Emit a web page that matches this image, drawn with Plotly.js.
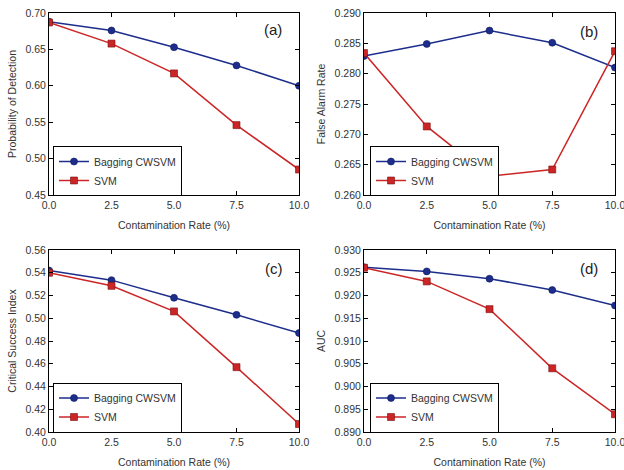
<!DOCTYPE html>
<html>
<head>
<meta charset="utf-8">
<script src="https://cdn.plot.ly/plotly-3.0.1.min.js"></script>
<style>html,body{margin:0;padding:0;background:#fff;}#chart{width:624px;height:470px;}</style>
</head>
<body>
<div id="chart"></div>
<script>
const contamination = [0.0, 2.5, 5.0, 7.5, 10.0];
const seriesNames = ["Bagging CWSVM", "SVM"];
const panelLabels = ["(a)", "(b)", "(c)", "(d)"];
const yTitles = ["Probability of Detection", "False Alarm Rate", "Critical Success Index", "AUC"];
const xTitle = "Contamination Rate (%)";

const pdBagging = [0.688, 0.676, 0.653, 0.628, 0.600];
const pdSVM     = [0.687, 0.658, 0.617, 0.546, 0.485];
const farBagging = [0.2829, 0.2849, 0.2871, 0.2851, 0.2810];
const farSVM     = [0.2834, 0.2713, 0.2631, 0.2642, 0.2837];
const csiBagging = [0.542, 0.5335, 0.518, 0.503, 0.487];
const csiSVM     = [0.540, 0.5285, 0.506, 0.457, 0.407];
const aucBagging = [0.9262, 0.9253, 0.9237, 0.9212, 0.9178];
const aucSVM     = [0.9261, 0.9231, 0.9170, 0.9040, 0.8939];

const yRanges = [[0.45, 0.70], [0.260, 0.290], [0.40, 0.56], [0.890, 0.930]];
const yDticks = [0.05, 0.005, 0.02, 0.005];
const yFormats = [".2f", ".3f", ".2f", ".3f"];

const panels = [
  [pdBagging, pdSVM],
  [farBagging, farSVM],
  [csiBagging, csiSVM],
  [aucBagging, aucSVM]
];

const blue = "#1c2d8c", blueEdge = "#0f1a5a";
const red = "#cc2525", redEdge = "#7a1010";
const font = "Liberation Sans, Arial, sans-serif";

const xDomains = [[49/624, 299/624], [364/624, 615/624], [49/624, 299/624], [364/624, 615/624]];
const yDomains = [[1-195/470, 1-13/470], [1-195/470, 1-13/470], [1-432/470, 1-250/470], [1-432/470, 1-250/470]];
const legendPos = [[53/624, 1-171/470], [370/624, 1-171/470], [53/624, 1-407.5/470], [370/624, 1-407.5/470]];
const labelPos = [[273, 30], [589, 31], [274, 268], [589, 268]];

const data = [];
const layout = {
  width: 624, height: 470,
  margin: {l: 0, r: 0, t: 0, b: 0},
  paper_bgcolor: "#fff", plot_bgcolor: "#fff",
  font: {family: font, size: 10, color: "#333"},
  showlegend: true,
  annotations: []
};

panels.forEach((p, i) => {
  const n = i + 1;
  const sfx = n === 1 ? "" : String(n);
  const xa = "x" + sfx, ya = "y" + sfx;
  const lg = "legend" + sfx;
  data.push({
    x: contamination, y: p[0], xaxis: xa, yaxis: ya, legend: lg,
    name: seriesNames[0], mode: "lines+markers", type: "scatter",
    line: {color: blue, width: 1.5},
    marker: {symbol: "circle", size: 7, color: blue, line: {color: blueEdge, width: 0.6}}
  });
  data.push({
    x: contamination, y: p[1], xaxis: xa, yaxis: ya, legend: lg,
    name: seriesNames[1], mode: "lines+markers", type: "scatter",
    line: {color: red, width: 1.5},
    marker: {symbol: "square", size: 7, color: red, line: {color: redEdge, width: 0.6}}
  });
  const axCommon = {
    showline: true, linecolor: "#000", linewidth: 1, mirror: "ticks",
    ticks: "inside", ticklen: 4, tickcolor: "#000", showgrid: false, zeroline: false,
    tickfont: {family: font, size: 10.5, color: "#333"}, ticklabeloverflow: "allow"
  };
  layout["xaxis" + sfx] = Object.assign({}, axCommon, {
    domain: xDomains[i], anchor: ya, range: [0, 10], dtick: 2.5, tick0: 0,
    tickformat: ".1f", automargin: false,
    title: {text: xTitle, font: {family: font, size: 10.5, color: "#333"}, standoff: 12}
  });
  layout["yaxis" + sfx] = Object.assign({}, axCommon, {
    domain: yDomains[i], anchor: xa, range: yRanges[i], dtick: yDticks[i], tick0: yRanges[i][0],
    tickformat: yFormats[i], automargin: false,
    title: {text: yTitles[i], font: {family: font, size: 10.5, color: "#333"}, standoff: 6}
  });
  layout[lg] = {
    x: legendPos[i][0], y: legendPos[i][1], xanchor: "left", yanchor: "middle",
    bgcolor: "#fff", bordercolor: "#000", borderwidth: 1,
    font: {family: font, size: 10.5, color: "#333"},
    tracegroupgap: 0, itemwidth: 30
  };
  layout.annotations.push({
    text: panelLabels[i], xref: "paper", yref: "paper",
    x: labelPos[i][0] / 624, y: 1 - labelPos[i][1] / 470,
    xanchor: "center", yanchor: "middle", showarrow: false,
    font: {family: font, size: 15, color: "#222"}
  });
});

Plotly.newPlot("chart", data, layout, {displayModeBar: false, staticPlot: true});
</script>
</body>
</html>
